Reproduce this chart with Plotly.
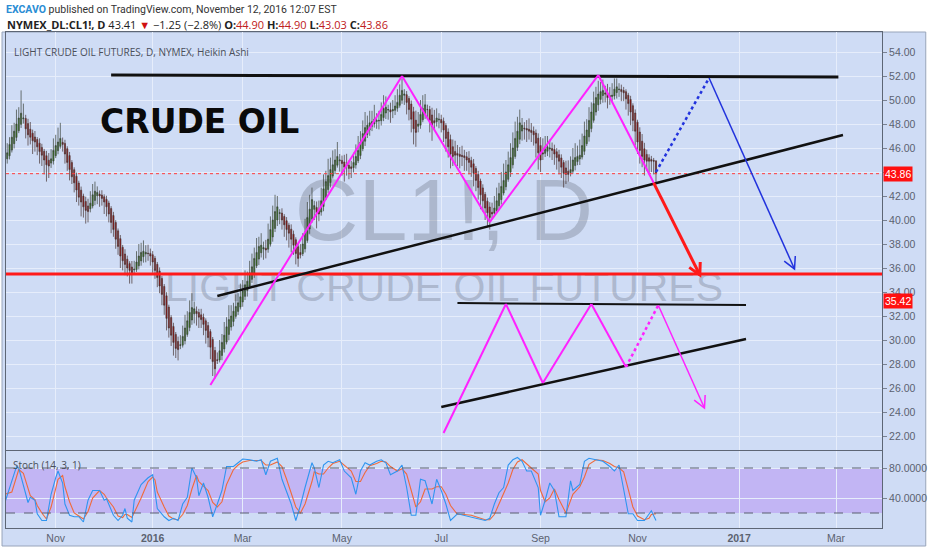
import numpy as np
import pandas as pd
import plotly.graph_objects as go

# ---------------- data ----------------
holidays = ["2015-11-26", "2015-12-25", "2016-01-01", "2016-01-18", "2016-02-15",
            "2016-03-25", "2016-05-30", "2016-07-04", "2016-09-05"]
dates = pd.bdate_range("2015-10-01", "2016-11-11", freq="C", holidays=holidays)
future_dates = pd.bdate_range("2016-11-14", "2017-04-28")

ha_close = [
    45.2, 45.6, 46.3, 46.9, 47.4, 48.0, 48.5, 48.9, 48.5, 47.6,
    47.1, 46.9, 46.6, 46.5, 46.1, 45.7, 45.4, 45.0, 44.6, 44.5,
    45.1, 45.8, 46.2, 46.5, 46.8, 46.3, 45.5, 44.8, 44.2, 43.6,
    43.1, 42.5, 41.9, 41.5, 41.1, 40.8, 40.7, 41.4, 42.1, 42.4,
    42.3, 42.0, 41.8, 41.5, 41.1, 40.5, 39.8, 39.2, 38.4, 37.8,
    37.0, 36.6, 36.3, 36.0, 35.8, 35.6, 35.9, 36.5, 37.0, 37.3,
    37.4, 37.3, 37.2, 37.0, 36.5, 35.8, 35.2, 34.5, 33.8, 32.9,
    31.8, 31.0, 30.4, 29.8, 29.3, 29.2, 29.6, 30.3, 31.0, 31.6,
    32.3, 32.7, 32.6, 32.2, 31.9, 31.7, 31.3, 30.8, 30.2, 29.4,
    28.2, 27.6, 28.3, 29.1, 29.8, 30.4, 31.1, 31.7, 32.0, 32.4,
    32.8, 33.1, 33.6, 34.1, 34.6, 34.9, 35.6, 36.1, 36.8, 37.3,
    37.8, 37.9, 37.7, 37.5, 38.4, 39.2, 40.0, 40.7, 41.1, 40.6,
    40.0, 39.6, 39.2, 38.9, 38.4, 37.9, 37.2, 36.8, 37.1, 38.0,
    39.0, 40.2, 40.9, 41.7, 41.2, 40.6, 40.5, 41.6, 42.6, 43.2,
    43.7, 44.2, 44.6, 45.0, 45.3, 45.0, 44.7, 44.4, 44.5, 44.3,
    44.3, 44.8, 45.3, 45.8, 46.5, 47.2, 47.7, 47.9, 48.1, 48.2,
    48.4, 48.3, 48.3, 48.8, 49.3, 49.4, 49.2, 49.0, 49.2, 49.5,
    49.8, 50.4, 50.8, 50.5, 49.8, 49.2, 48.4, 47.6, 47.3, 48.0,
    48.8, 49.3, 49.6, 49.2, 48.3, 47.8, 48.1, 48.5, 48.4, 48.1,
    47.5, 46.8, 46.1, 45.5, 45.3, 45.4, 45.4, 45.3, 45.3, 45.2,
    45.0, 44.8, 44.4, 43.9, 43.3, 42.7, 42.1, 41.6, 41.0, 40.6,
    40.2, 40.5, 41.0, 41.6, 42.2, 42.8, 43.3, 44.0, 44.6, 45.2,
    46.0, 46.8, 47.4, 48.1, 47.9, 47.6, 47.5, 47.4, 47.3, 47.1,
    46.4, 45.6, 45.0, 45.5, 45.9, 46.1, 46.0, 45.8, 45.5, 45.2,
    44.9, 44.4, 43.9, 43.8, 43.8, 44.2, 45.0, 45.2, 45.3, 45.4,
    46.2, 47.0, 47.5, 48.3, 49.0, 49.7, 50.2, 50.5, 50.7, 50.8,
    50.5, 50.2, 50.2, 50.4, 50.9, 51.1, 50.9, 50.7, 50.6, 50.1,
    49.7, 49.0, 48.3, 47.4, 46.5, 45.8, 45.3, 45.0, 44.9, 44.9,
    44.9, 44.9, 43.86,
]
wick_hi = [
    0.5, 0.8, 0.6, 1.0, 0.7, 1.2, 0.9, 1.9, 1.2, 0.3,
    0.4, 0.6, 0.3, 0.5, 0.2, 0.4, 0.3, 0.2, 0.4, 0.6,
    0.8, 1.0, 0.9, 1.2, 1.3, 0.4, 0.3, 0.2, 0.3, 0.2,
    0.2, 0.3, 0.2, 0.3, 0.2, 0.4, 0.6, 1.0, 0.9, 0.8,
    0.5, 0.3, 0.4, 0.2, 0.3, 0.2, 0.2, 0.3, 0.2, 0.2,
    0.3, 0.2, 0.4, 0.3, 0.2, 0.5, 0.7, 0.9, 1.0, 0.8,
    0.9, 0.6, 0.7, 0.4, 0.3, 0.2, 0.2, 0.3, 0.2, 0.2,
    0.3, 0.2, 0.2, 0.3, 0.2, 0.4, 0.8, 0.9, 1.1, 0.8,
    1.0, 1.2, 0.6, 0.4, 0.3, 0.5, 0.3, 0.2, 0.3, 0.2,
    0.2, 0.3, 0.6, 0.9, 0.7, 1.1, 0.8, 1.2, 0.9, 0.7,
    1.0, 0.8, 1.1, 0.9, 1.2, 0.8, 1.0, 1.1, 0.9, 1.2,
    0.8, 1.0, 0.5, 0.7, 1.3, 1.1, 1.2, 1.4, 0.9, 0.3,
    0.4, 0.2, 0.3, 0.2, 0.4, 0.3, 0.2, 0.3, 0.7, 0.9,
    1.1, 1.3, 1.2, 1.0, 0.4, 0.5, 0.8, 1.1, 1.2, 0.9,
    1.4, 1.0, 1.2, 0.9, 1.2, 0.5, 0.4, 0.6, 0.9, 0.4,
    0.5, 0.8, 1.0, 1.2, 0.9, 1.1, 1.3, 0.8, 1.0, 0.9,
    1.2, 0.6, 0.8, 1.0, 1.1, 0.9, 0.4, 0.6, 0.8, 0.9,
    1.1, 0.9, 1.0, 0.4, 0.3, 0.2, 0.3, 0.4, 0.8, 1.0,
    1.2, 1.1, 0.9, 0.4, 0.3, 0.6, 0.9, 0.8, 0.5, 0.4,
    0.3, 0.2, 0.3, 0.4, 0.6, 0.9, 0.7, 0.6, 0.8, 0.5,
    0.4, 0.6, 0.3, 0.4, 0.2, 0.3, 0.2, 0.3, 0.2, 0.3,
    0.4, 0.8, 1.0, 1.1, 0.9, 1.2, 1.4, 1.0, 1.1, 1.2,
    1.3, 1.4, 1.2, 1.1, 0.6, 0.5, 0.7, 0.9, 0.6, 0.4,
    0.3, 0.4, 0.7, 1.2, 1.1, 0.9, 0.7, 0.5, 0.4, 0.3,
    0.4, 0.3, 0.2, 0.6, 0.9, 1.1, 1.0, 1.2, 0.9, 1.3,
    1.0, 1.2, 0.9, 1.1, 0.8, 1.0, 0.9, 1.1, 0.8, 0.9,
    0.6, 0.8, 0.7, 1.0, 0.9, 0.7, 0.5, 0.4, 0.3, 0.2,
    0.2, 0.3, 0.2, 0.3, 0.2, 0.4, 0.6, 0.5, 0.4, 0.3,
    0.3, 0.2, 0.0,
]
wick_lo = [
    1.2, 0.4, 0.3, 0.2, 0.4, 0.3, 0.2, 0.3, 0.4, 0.8,
    0.9, 0.6, 1.1, 0.8, 0.7, 1.0, 0.9, 1.2, 1.4, 1.0,
    0.4, 0.3, 0.2, 0.3, 0.2, 0.6, 0.8, 0.7, 0.9, 0.6,
    0.8, 1.0, 0.7, 1.2, 0.9, 1.1, 0.9, 0.3, 0.2, 0.4,
    0.7, 0.9, 0.6, 1.0, 0.8, 0.7, 0.9, 0.6, 0.8, 0.7,
    1.0, 0.8, 0.9, 0.7, 1.1, 0.9, 0.4, 0.2, 0.3, 0.4,
    0.5, 0.7, 0.6, 0.8, 0.9, 0.7, 0.8, 0.6, 0.9, 0.8,
    1.0, 0.8, 0.9, 1.1, 0.8, 0.9, 0.3, 0.2, 0.3, 0.2,
    0.3, 0.4, 0.8, 1.0, 0.9, 0.7, 0.9, 1.1, 0.8, 1.0,
    1.2, 0.8, 0.3, 0.2, 0.4, 0.3, 0.2, 0.5, 0.3, 0.4,
    0.2, 0.3, 0.2, 0.4, 0.3, 0.5, 0.2, 0.3, 0.4, 0.2,
    0.5, 0.4, 0.9, 0.7, 0.3, 0.2, 0.4, 0.3, 0.5, 0.9,
    0.8, 1.0, 0.9, 1.2, 1.1, 0.8, 0.9, 0.7, 0.3, 0.2,
    0.3, 0.2, 0.4, 0.3, 0.9, 1.3, 0.6, 0.3, 0.4, 0.2,
    0.3, 0.4, 0.2, 0.3, 0.2, 0.9, 1.0, 1.2, 0.8, 0.9,
    0.8, 0.4, 0.3, 0.2, 0.3, 0.2, 0.4, 0.3, 0.5, 0.4,
    0.3, 0.6, 0.7, 0.4, 0.3, 0.5, 0.8, 0.9, 0.6, 0.4,
    0.3, 0.2, 0.3, 0.8, 1.0, 0.9, 1.1, 1.3, 1.2, 0.5,
    0.3, 0.2, 0.4, 0.8, 1.0, 1.2, 0.6, 0.4, 0.7, 0.8,
    1.0, 1.1, 0.9, 1.2, 0.8, 0.7, 0.9, 1.0, 0.8, 1.1,
    0.9, 1.0, 0.8, 1.1, 0.9, 1.0, 1.2, 0.9, 1.0, 1.2,
    1.0, 0.4, 0.3, 0.2, 0.3, 0.4, 0.2, 0.3, 0.2, 0.4,
    0.3, 0.2, 0.3, 0.4, 0.8, 0.9, 1.0, 0.7, 0.8, 0.9,
    1.2, 1.4, 1.0, 0.5, 0.3, 0.4, 0.7, 0.8, 0.9, 1.0,
    1.1, 0.9, 1.2, 0.8, 0.6, 0.3, 0.2, 0.4, 0.3, 0.5,
    0.2, 0.3, 0.2, 0.4, 0.3, 0.2, 0.3, 0.5, 0.4, 0.6,
    0.7, 0.9, 0.6, 0.4, 0.3, 0.5, 0.6, 0.8, 0.7, 0.9,
    1.0, 1.1, 0.9, 1.2, 1.0, 1.1, 0.9, 1.3, 0.8, 1.0,
    0.9, 1.1, 0.83,
]
first_open = 45.0

# Stochastic (14,3,1): bar index, %K, %D
stoch_idx = [0, 3, 5, 6, 8, 10, 11, 13, 14, 16, 18, 20, 22, 23, 25, 26, 28, 30, 32, 34,
             36, 38, 41, 43, 44, 47, 49, 51, 52, 53, 55, 56, 59, 62, 64, 65, 66, 69, 71, 73,
             75, 77, 79, 81, 83, 84, 86, 88, 90, 92, 94, 96, 99, 101, 103, 106, 109, 111, 113, 115,
             118, 120, 122, 124, 126, 128, 130, 133, 134, 136, 138, 140, 142, 145, 147, 150, 152, 154, 156, 158,
             161, 163, 165, 167, 170, 172, 174, 176, 178, 180, 182, 185, 187, 189, 191, 193, 196, 199, 202, 205,
             208, 210, 212, 214, 216, 218, 220, 222, 224, 226, 228, 231, 232, 234, 236, 238, 240, 243, 245, 246,
             249, 251, 253, 256, 259, 262, 264, 266, 268, 270, 272, 274, 277, 279, 280, 282]
stoch_k = [34, 63, 82, 80, 58, 34, 41, 37, 19, 10, 10, 45, 67, 76, 60, 32, 17, 15, 15, 8,
           37, 50, 50, 37, 39, 17, 10, 17, 26, 13, 8, 37, 58, 67, 71, 50, 26, 15, 10, 13,
           10, 32, 41, 80, 67, 43, 60, 41, 15, 32, 50, 82, 82, 87, 92, 91, 89, 91, 71, 89,
           93, 65, 47, 32, 10, 30, 54, 87, 80, 54, 84, 89, 87, 91, 76, 67, 45, 76, 87, 84,
           89, 91, 87, 71, 76, 84, 54, 17, 17, 65, 63, 32, 65, 50, 32, 10, 19, 17, 15, 12,
           10, 13, 32, 47, 54, 84, 91, 94, 89, 76, 76, 54, 17, 37, 60, 50, 15, 15, 63, 50,
           58, 89, 93, 91, 89, 82, 76, 84, 54, 19, 19, 10, 10, 19, 23, 10]
stoch_d = [45, 48, 68, 78, 73, 52, 43, 38, 30, 20, 12, 28, 52, 65, 70, 55, 35, 20, 16, 12,
           22, 40, 50, 45, 40, 28, 16, 14, 18, 18, 14, 20, 40, 62, 68, 64, 48, 28, 16, 12,
           11, 18, 30, 52, 70, 62, 56, 50, 34, 28, 35, 58, 78, 84, 88, 90, 90, 90, 84, 84,
           88, 82, 65, 47, 28, 20, 32, 62, 75, 72, 72, 80, 86, 89, 84, 76, 62, 62, 74, 83,
           86, 89, 88, 82, 76, 79, 72, 48, 28, 35, 52, 52, 55, 55, 45, 30, 18, 18, 17, 14,
           11, 11, 18, 32, 45, 60, 78, 88, 91, 86, 80, 72, 50, 35, 40, 52, 38, 20, 35, 45,
           55, 68, 85, 91, 90, 86, 82, 80, 75, 50, 28, 16, 11, 13, 18, 19]

price_ticks = list(range(22, 55, 2))
hidden_price_labels = [44]  # covered by the 43.86 last-price marker in the reference
time_tick_dates = ["2015-11-02", "2016-01-04", "2016-03-01", "2016-05-02", "2016-07-01",
                   "2016-09-01", "2016-11-01", "2017-01-02", "2017-03-01"]
time_tick_text = ["Nov", "<b>2016</b>", "Mar", "May", "Jul", "Sep", "Nov", "<b>2017</b>", "Mar"]

# ---------------- bar-index time scale (TradingView style, no gaps) ----------------
all_dates = list(dates) + list(future_dates)
pos = {d.strftime("%Y-%m-%d"): i for i, d in enumerate(all_dates)}


def X(d):
    return pos[d]


# ---------------- Heikin Ashi candles ----------------
n = min(len(dates), len(ha_close))
c = np.array(ha_close[:n])
o = np.empty(n)
o[0] = first_open
for i in range(1, n):
    o[i] = (o[i - 1] + c[i - 1]) / 2
hi = np.maximum(o, c) + np.array(wick_hi[:n])
lo = np.minimum(o, c) - np.array(wick_lo[:n])
bar_x = np.arange(n)
bar_text = [d.strftime("%Y-%m-%d") for d in dates[:n]]

# ---------------- geometry helpers ----------------
W, H = 932, 550
L_, R_, T_, B_ = 5, 46, 32, 22
PW, PH = W - L_ - R_, H - T_ - B_


def px(x):
    return (x - L_) / PW


def py(y):
    return (H - B_ - y) / PH


BG = "#cfdcf5"
GRID = "#e6edfb"
AX = "#5d6675"
TXT = "#5b6270"
MAG = "#ff22ff"
BLUE = "#2233dd"
RED = "#ff1a1a"

xr = [0.47, 379.9]
xmid = (xr[0] + xr[1]) / 2

fig = go.Figure()

# watermark (drawn under the candles)
fig.add_trace(go.Scatter(
    x=[xmid, xmid], y=[40.2, 34.1], mode="text",
    text=["CL1!, D", "LIGHT CRUDE OIL FUTURES"],
    textfont=dict(size=[88, 41], color="rgba(110,118,135,0.36)", family="Liberation Sans"),
    hoverinfo="skip", showlegend=False, xaxis="x", yaxis="y"))

fig.add_trace(go.Candlestick(
    x=bar_x, open=o, high=hi, low=lo, close=c, text=bar_text,
    increasing=dict(fillcolor="#347f18", line=dict(color="#3a4136", width=0.7)),
    decreasing=dict(fillcolor="#a80e0e", line=dict(color="#45302f", width=0.7)),
    whiskerwidth=0, showlegend=False, hoverinfo="skip", xaxis="x", yaxis="y3"))

fig.add_trace(go.Scatter(x=stoch_idx, y=stoch_d, mode="lines", line=dict(color="#f06a3a", width=1.1),
                         showlegend=False, hoverinfo="skip", xaxis="x2", yaxis="y2"))
fig.add_trace(go.Scatter(x=stoch_idx, y=stoch_k, mode="lines", line=dict(color="#2f95f0", width=1.1),
                         showlegend=False, hoverinfo="skip", xaxis="x2", yaxis="y2"))

# ---------------- drawings ----------------
shapes = []
shapes.append(dict(type="rect", xref="paper", yref="paper", x0=px(1), x1=px(930), y0=py(546), y1=py(32),
                   fillcolor=BG, line=dict(color="#98a4ba", width=1), layer="below"))
shapes.append(dict(type="rect", xref="paper", yref="y2", x0=0, x1=1, y0=20, y1=80,
                   fillcolor="#c2b5f4", line=dict(width=0), layer="below"))
for lvl in (20, 80):
    shapes.append(dict(type="line", xref="paper", yref="y2", x0=0, x1=1, y0=lvl, y1=lvl,
                       line=dict(color="#5a5f70", width=1, dash="dash")))


def seg(p0, p1, color, width, dash="solid"):
    return dict(type="line", xref="x", yref="y", x0=X(p0[0]), y0=p0[1], x1=X(p1[0]), y1=p1[1],
                line=dict(color=color, width=width, dash=dash))


def head(tip, ang, color, width, L=13, s=28):
    pts = []
    for sg in (1, -1):
        t = np.radians(ang + 180 + sg * s)
        pts.append((L * np.cos(t), -L * np.sin(t)))
    path = f"M {pts[0][0]:.1f},{pts[0][1]:.1f} L 0,0 L {pts[1][0]:.1f},{pts[1][1]:.1f}"
    return dict(type="path", xref="x", yref="y", xsizemode="pixel", ysizemode="pixel",
                xanchor=X(tip[0]), yanchor=tip[1], path=path, line=dict(color=color, width=width))


shapes.append(dict(type="line", xref="paper", yref="y", x0=0, x1=1, y0=43.86, y1=43.86,
                   line=dict(color="#ff3b3b", width=1, dash="dot")))
shapes.append(dict(type="line", xref="paper", yref="y", x0=0, x1=1, y0=35.5, y1=35.5,
                   line=dict(color=RED, width=3)))
shapes.append(seg(("2015-12-07", 52.08), ("2017-03-02", 51.92), "#111111", 3))
shapes.append(seg(("2016-02-12", 33.67), ("2017-03-06", 47.08), "#111111", 2.5))
shapes.append(seg(("2016-07-13", 33.08), ("2017-01-05", 32.92), "#111111", 2))
shapes.append(seg(("2016-07-01", 24.42), ("2017-01-05", 30.08), "#111111", 2.5))
zz = [("2016-02-09", 26.25), ("2016-06-08", 52.0), ("2016-08-02", 39.83),
      ("2016-10-07", 52.08), ("2016-11-10", 43.1)]
for a, b in zip(zz[:-1], zz[1:]):
    shapes.append(seg(a, b, MAG, 2))
shapes.append(seg(("2016-11-10", 43.1), ("2016-12-08", 35.42), RED, 3))
shapes.append(head(("2016-12-08", 35.42), 63.7, RED, 3))
shapes.append(seg(("2016-11-11", 44.0), ("2016-12-14", 51.83), BLUE, 2.5, "dot"))
shapes.append(seg(("2016-12-14", 51.83), ("2017-02-03", 35.92), BLUE, 1.5))
shapes.append(head(("2017-02-03", 35.92), 65.5, BLUE, 1.5))
lz = [("2016-07-05", 22.25), ("2016-08-11", 33.0), ("2016-09-02", 26.42),
      ("2016-10-04", 33.0), ("2016-10-25", 27.75)]
for a, b in zip(lz[:-1], lz[1:]):
    shapes.append(seg(a, b, MAG, 2))
shapes.append(seg(("2016-10-25", 27.75), ("2016-11-14", 32.9), MAG, 2.5, "dot"))
shapes.append(seg(("2016-11-14", 32.9), ("2016-12-12", 24.33), MAG, 1.5))
shapes.append(head(("2016-12-12", 24.33), 65.3, MAG, 1.5))

shapes.append(dict(type="rect", xref="paper", yref="paper", x0=px(0), x1=px(932), y0=py(31), y1=py(0),
                   fillcolor="white", line=dict(width=0), layer="below"))

annotations = [
    dict(xref="paper", yref="paper", x=px(3), y=py(10), xanchor="left", yanchor="middle",
         text="<span style='color:#2a8dd4'><b>EXCAVO</b></span> published on TradingView.com, November 12, 2016 12:07 EST",
         showarrow=False, font=dict(family="Roboto", size=10.5, color="#333333")),
    dict(xref="paper", yref="paper", x=px(4), y=py(25), xanchor="left", yanchor="middle",
         text="<b>NYMEX_DL:CL1!, D</b> 43.41 <span style='color:#d01010'>▼</span> −1.25 (−2.8%) "
              "<b>O:</b><span style='color:#c02020'>44.90</span> <b>H:</b><span style='color:#c02020'>44.90</span> "
              "<b>L:</b><span style='color:#c02020'>43.03</span> <b>C:</b><span style='color:#c02020'>43.86</span>",
         showarrow=False, font=dict(family="Open Sans", size=11, color="#222222")),
    dict(xref="paper", yref="paper", x=px(11), y=py(52), xanchor="left", yanchor="middle",
         text="LIGHT CRUDE OIL FUTURES, D, NYMEX, Heikin Ashi", showarrow=False,
         font=dict(family="Open Sans", size=10, color="#4a4f5a")),
    dict(xref="paper", yref="paper", x=px(10), y=py(465), xanchor="left", yanchor="middle",
         text="Stoch (14, 3, 1)", showarrow=False,
         font=dict(family="Open Sans", size=10, color="#4a4f5a")),
    dict(xref="paper", yref="paper", x=px(200), y=py(121), xanchor="center", yanchor="middle",
         text="<b>CRUDE OIL</b>", showarrow=False,
         font=dict(family="DejaVu Sans", size=33, color="#0a0a0a")),
    dict(xref="paper", yref="y", x=px(887), y=43.86, xanchor="left", yanchor="middle",
         text="43.86", showarrow=False, bgcolor="#ff1010", borderpad=1,
         font=dict(family="Liberation Sans", size=10.5, color="white")),
    dict(xref="paper", yref="y", x=px(887), y=33.29, xanchor="left", yanchor="middle",
         text="35.42", showarrow=False, bgcolor="#ff1010", borderpad=1,
         font=dict(family="Liberation Sans", size=10.5, color="white")),
]

main_dom = [py(450), 1]
stoch_dom = [0, py(451)]
tick_pos = [X(d) for d in time_tick_dates]
price_text = ["" if v in hidden_price_labels else f"{v:.2f}" for v in price_ticks]

fig.update_layout(
    width=W, height=H, margin=dict(l=L_, r=R_, t=T_, b=B_),
    paper_bgcolor="white", plot_bgcolor=BG, showlegend=False,
    shapes=shapes, annotations=annotations,
    xaxis=dict(domain=[0, 1], anchor="y", matches="x2", range=xr,
               tickvals=tick_pos, showticklabels=False, showgrid=True, gridcolor=GRID,
               showline=True, linecolor=AX, mirror=True, zeroline=False, rangeslider=dict(visible=False),
               ticks=""),
    xaxis2=dict(domain=[0, 1], anchor="y2", range=xr,
                tickvals=tick_pos, ticktext=time_tick_text, showgrid=True, gridcolor=GRID,
                showline=True, linecolor=AX, mirror=True, zeroline=False, ticks="",
                tickfont=dict(family="Liberation Sans", size=10.5, color=TXT)),
    yaxis=dict(domain=main_dom, anchor="x", side="right", range=[20.833, 55.667],
               tickvals=price_ticks, ticktext=price_text,
               ticks="outside", ticklen=4, tickcolor="#7a8292", showgrid=True, gridcolor=GRID,
               showline=True, linecolor=AX, mirror=True, zeroline=False,
               tickfont=dict(family="Liberation Sans", size=10.5, color=TXT)),
    yaxis3=dict(overlaying="y", anchor="x", side="right", range=[20.833, 55.667], visible=False),
    yaxis2=dict(domain=stoch_dom, anchor="x2", side="right", range=[0, 102.7],
                tickvals=[40, 80], ticktext=["40.0000", "80.0000"],
                ticks="outside", ticklen=4, tickcolor="#7a8292", showgrid=True, gridcolor=GRID,
                showline=True, linecolor=AX, mirror=True, zeroline=False,
                tickfont=dict(family="Liberation Sans", size=10.5, color=TXT)),
)

fig.write_html("out.html", config={"displayModeBar": False},
               post_script="document.body.style.margin='0px';")
